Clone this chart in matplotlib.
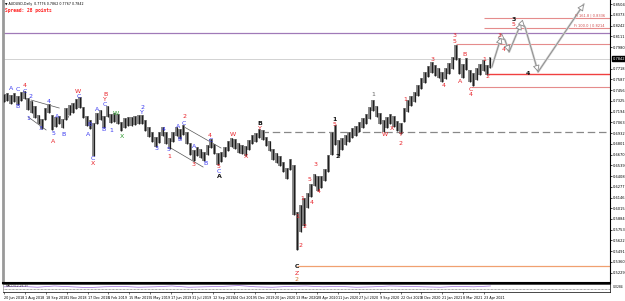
import matplotlib
matplotlib.use("Agg")
import matplotlib.pyplot as plt
import numpy as np

# ---------------- data (weekly-ish bars) ----------------
highs = [0.7409, 0.7421, 0.7397, 0.7421, 0.7385, 0.7434, 0.7446, 0.7360, 0.7324, 0.7263,
         0.7153, 0.7104, 0.7238, 0.7287, 0.7153, 0.7129, 0.7141, 0.7104, 0.7238, 0.7275,
         0.7299, 0.7348, 0.7373, 0.7251, 0.7141, 0.7092, 0.7055, 0.7177, 0.7214, 0.7141,
         0.7263, 0.7165, 0.7177, 0.7165, 0.7068, 0.7116, 0.7129, 0.7129, 0.7141, 0.7153,
         0.7153, 0.7092, 0.7007, 0.6946, 0.6885, 0.6946, 0.7007, 0.6946, 0.6872, 0.6946,
         0.7007, 0.6982, 0.7031, 0.6946, 0.6811, 0.6726, 0.6763, 0.6738, 0.6702, 0.6787,
         0.6860, 0.6799, 0.6689, 0.6702, 0.6763, 0.6836, 0.6872, 0.6860, 0.6811, 0.6787,
         0.6775, 0.6848, 0.6909, 0.6933, 0.6982, 0.6970, 0.6885, 0.6836, 0.6738, 0.6689,
         0.6653, 0.6580, 0.6506, 0.6616, 0.6543, 0.5970, 0.6055, 0.6140, 0.6201, 0.6311,
         0.6433, 0.6409, 0.6409, 0.6494, 0.6665, 0.6946, 0.7031, 0.6848, 0.6872, 0.6909,
         0.6946, 0.6994, 0.7019, 0.7068, 0.7116, 0.7165, 0.7251, 0.7336, 0.7263, 0.7177,
         0.7092, 0.7129, 0.7165, 0.7141, 0.7080, 0.7055, 0.7238, 0.7336, 0.7385, 0.7434,
         0.7519, 0.7604, 0.7678, 0.7751, 0.7800, 0.7763, 0.7726, 0.7678, 0.7726, 0.7787,
         0.7861, 0.8007, 0.7848, 0.7775, 0.7848, 0.7702, 0.7665, 0.7726, 0.7775, 0.7824,
         0.7763, 0.7861]
lows = [0.7312, 0.7324, 0.7287, 0.7312, 0.7275, 0.7324, 0.7348, 0.7214, 0.7177, 0.7116,
        0.7043, 0.6982, 0.7092, 0.7177, 0.6970, 0.7007, 0.7043, 0.6994, 0.7092, 0.7153,
        0.7177, 0.7226, 0.7238, 0.7116, 0.7019, 0.6982, 0.6653, 0.7043, 0.7092, 0.6994,
        0.7129, 0.7055, 0.7068, 0.7043, 0.6958, 0.6994, 0.7019, 0.7019, 0.7031, 0.7043,
        0.7043, 0.6958, 0.6885, 0.6824, 0.6763, 0.6811, 0.6897, 0.6799, 0.6738, 0.6824,
        0.6897, 0.6860, 0.6909, 0.6799, 0.6665, 0.6592, 0.6653, 0.6628, 0.6592, 0.6665,
        0.6750, 0.6677, 0.6543, 0.6580, 0.6641, 0.6714, 0.6763, 0.6738, 0.6689, 0.6677,
        0.6653, 0.6726, 0.6799, 0.6824, 0.6872, 0.6848, 0.6775, 0.6714, 0.6604, 0.6567,
        0.6531, 0.6458, 0.6372, 0.6482, 0.5933, 0.5506, 0.5726, 0.5799, 0.6018, 0.6153,
        0.6287, 0.6226, 0.6262, 0.6348, 0.6458, 0.6665, 0.6787, 0.6653, 0.6726, 0.6787,
        0.6824, 0.6872, 0.6897, 0.6946, 0.6994, 0.7043, 0.7104, 0.7202, 0.7129, 0.7043,
        0.6946, 0.6994, 0.7043, 0.7007, 0.6958, 0.6921, 0.7068, 0.7190, 0.7263, 0.7312,
        0.7385, 0.7470, 0.7543, 0.7617, 0.7665, 0.7629, 0.7604, 0.7556, 0.7592, 0.7653,
        0.7714, 0.7824, 0.7653, 0.7604, 0.7702, 0.7556, 0.7507, 0.7580, 0.7641, 0.7690,
        0.7641, 0.7726]

price_ticks = [0.8504, 0.8373, 0.8242, 0.8111, 0.7980, 0.7718, 0.7587, 0.7456,
               0.7325, 0.7194, 0.7063, 0.6932, 0.6801, 0.6670, 0.6539, 0.6408, 0.6277,
               0.6146, 0.6015, 0.5884, 0.5753, 0.5622, 0.5491, 0.5360, 0.5229]
current_price = 0.7842

date_labels = ["20 Jun 2018", "1 Aug 2018", "18 Sep 2018", "1 Nov 2018", "17 Dec 2018",
               "1 Feb 2019", "15 Mar 2019", "1 May 2019", "17 Jun 2019", "31 Jul 2019",
               "12 Sep 2019", "24 Oct 2019", "5 Dec 2019", "20 Jan 2020", "13 Mar 2020",
               "28 Apr 2020", "11 Jun 2020", "27 Jul 2020", "9 Sep 2020", "22 Oct 2020",
               "8 Dec 2020", "21 Jan 2021", "8 Mar 2021", "23 Apr 2021"]

BLUE, RED, BLACK, GREEN, ORANGE, GRAY = "#3b3bf0", "#e8232a", "#111111", "#2e9a2e", "#d07a30", "#666666"
# wave labels: (bar, price, text, colour)
wave_labels = [
    (2.0, 0.7482, "A", BLUE), (4.1, 0.7470, "C", BLUE), (3.8, 0.7251, "B", BLUE),
    (6.1, 0.7507, "4", RED), (6.1, 0.7434, "C", BLUE), (7.8, 0.7373, "2", BLUE),
    (7.0, 0.7116, "1", BLUE), (10.7, 0.6994, "3", BLUE), (12.8, 0.7312, "4", BLUE),
    (14.2, 0.6933, "5", BLUE), (14.2, 0.6824, "A", RED), (15.4, 0.7129, "A", BLUE),
    (17.1, 0.6921, "B", BLUE), (21.4, 0.7434, "W", RED), (21.7, 0.7373, "C", BLUE),
    (24.9, 0.7043, "B", BLUE), (24.3, 0.6909, "A", BLUE), (25.8, 0.6628, "C", BLUE),
    (25.8, 0.6567, "X", RED), (27.0, 0.7214, "A", BLUE), (28.7, 0.6982, "B", BLUE),
    (29.3, 0.7405, "B", RED), (29.3, 0.7343, "Y", RED), (29.3, 0.7280, "C", BLUE),
    (31.0, 0.6958, "1", BLUE), (32.5, 0.7177, "W", GREEN), (34.2, 0.6885, "X", GREEN),
    (40.0, 0.7245, "2", BLUE), (40.0, 0.7183, "Y", BLUE), (44.1, 0.6750, "3", BLUE),
    (46.4, 0.6982, "4", BLUE), (47.8, 0.6726, "5", BLUE), (47.8, 0.6641, "1", RED),
    (50.4, 0.7007, "A", BLUE), (51.0, 0.6860, "B", BLUE), (52.2, 0.7129, "2", RED),
    (52.2, 0.7055, "C", BLUE), (54.8, 0.6543, "3", RED), (55.1, 0.6763, "A", BLUE),
    (58.3, 0.6555, "B", BLUE), (59.7, 0.6897, "4", RED), (60.0, 0.6836, "C", BLUE),
    (62.3, 0.6525, "5", RED), (62.3, 0.6462, "C", BLUE), (62.3, 0.6398, "A", BLACK),
    (66.4, 0.6909, "W", RED), (70.1, 0.6641, "X", RED), (74.2, 0.7055, "B", BLACK),
    (74.2, 0.6994, "Y", RED),
    (90.4, 0.6543, "3", RED), (88.4, 0.6360, "5", RED), (91.3, 0.6214, "4", RED),
    (89.3, 0.6080, "4", RED), (86.4, 0.6128, "1", RED), (84.9, 0.5909, "1", RED),
    (87.0, 0.5787, "2", RED), (85.8, 0.5555, "2", RED),
    (84.9, 0.5299, "C", BLACK), (84.9, 0.5225, "Z", RED), (84.9, 0.5140, "2", ORANGE),
    (95.9, 0.7104, "1", BLACK), (95.9, 0.7031, "5", RED), (96.8, 0.6641, "2", BLACK),
    (107.0, 0.7397, "1", GRAY), (110.5, 0.6909, "W", RED), (112.5, 0.6994, "X", RED),
    (115.0, 0.6921, "Y", RED), (115.0, 0.6811, "2", RED),
    (116.2, 0.7336, "1", RED), (124.1, 0.7836, "3", RED), (127.5, 0.7507, "4", RED),
    (130.7, 0.8117, "3", RED), (130.7, 0.8044, "5", RED), (132.2, 0.7556, "A", RED),
    (133.6, 0.7885, "B", RED), (135.4, 0.7470, "C", RED), (135.4, 0.7397, "4", RED),
    (139.1, 0.7836, "1", RED), (140.0, 0.7617, "2", RED),
    (143.5, 0.8117, "3", RED), (144.9, 0.7946, "4", RED), (147.8, 0.8251, "5", RED),
    (147.8, 0.8324, "3", BLACK), (151.9, 0.7665, "4", BLACK),
]

# projected path (bar, price)
proj_x = [141.4, 144.1, 145.2, 146.4, 149.9, 151.0, 154.8, 168.1]
proj_y = [0.7739, 0.8105, 0.8068, 0.7922, 0.8275, 0.8227, 0.7678, 0.8507]

# horizontal levels: (price, start bar, colour, style, width)
levels = [
    (0.8336, 139.0, "#e58c8c", "-", 0.8),
    (0.8214, 139.0, "#e58c8c", "-", 0.8),
    (0.8153, -1.0, "#a07ab8", "-", 0.9),
    (0.8019, 131.0, "#e58c8c", "-", 0.8),
    (0.7836, -1.0, "#d2d2d2", "-", 0.7),
    (0.7653, 140.0, "#f04040", "-", 1.0),
    (0.7495, 135.5, "#e58c8c", "-", 0.8),
    (0.6946, 74.5, "#888888", (0, (6, 3)), 0.9),
    (0.5311, 85.0, "#f0a070", "-", 0.9),
]
fib_texts = [(0.8336, "Fi 161.8 | 0.8336"), (0.8214, "Fi 100.0 | 0.8214")]

# trend/channel lines (bar0, price0, bar1, price1)
trend_lines = [
    (7.8, 0.7336, 16.0, 0.7238), (7.0, 0.7129, 12.2, 0.6970),
    (18.5, 0.7116, 21.0, 0.7336), (19.0, 0.7214, 21.6, 0.7300),
    (52.2, 0.7007, 62.9, 0.6750), (47.8, 0.6763, 57.7, 0.6518),
]

# ---------------- drawing ----------------
W, H = 625, 301
fig = plt.figure(figsize=(W / 100, H / 100), dpi=100)
fig.patch.set_facecolor("white")


def px_axes(x0, y0, x1, y1):
    return fig.add_axes([x0 / W, 1 - y1 / H, (x1 - x0) / W, (y1 - y0) / H])


ax = px_axes(3, 0, 610, 283)
xmax = 607 / 3.45 - 0.3
ax.set_xlim(-0.3, xmax)
ax.set_ylim(0.5103, 0.8556)

bar_x = np.arange(len(highs))
ax.fill_between(bar_x, lows, highs, step="mid", color="#8c8c8c", lw=0, zorder=2.5)
ax.vlines(bar_x, lows, highs, color="#1e1e1e", lw=0.9, zorder=3)

for price, start, col, ls, lw in levels:
    ax.hlines(price, start, xmax, colors=col, linestyles=ls, lw=lw, zorder=2)
for price, txt in fib_texts:
    ax.text(xmax - 1.5, price + 0.0012, txt, color="#d05050", fontsize=2.6,
            ha="right", va="bottom", zorder=4)

for b0, p0, b1, p1 in trend_lines:
    ax.plot([b0, b1], [p0, p1], color="#555555", lw=0.5, zorder=2)

# projection: light thick lines with arrowheads
for i in range(len(proj_x) - 1):
    ax.annotate("", xy=(proj_x[i + 1], proj_y[i + 1]), xytext=(proj_x[i], proj_y[i]),
                arrowprops=dict(arrowstyle="-|>,head_length=0.4,head_width=0.2",
                                fc="white", ec="#8a8a8a", lw=0.6, shrinkA=0, shrinkB=0),
                zorder=4)
ax.plot(proj_x, proj_y, color="#d0d0d0", lw=1.6, zorder=3.5, solid_capstyle="round")

for b, p, t, c in wave_labels:
    ax.text(b, p, t, color=c, fontsize=4.5, ha="center", va="center",
            fontweight="bold" if c in (BLACK,) else "normal", zorder=5)

# axis styling
ax.set_xticks([])
ax.yaxis.tick_right()
ax.set_yticks(price_ticks)
ax.set_yticklabels([f"{v:.4f}" for v in price_ticks], fontsize=2.6)
ax.tick_params(axis="y", length=1.5, width=0.5, pad=0.8)
ax.spines["top"].set_visible(False)
ax.spines["left"].set_color("#999999")
ax.spines["left"].set_linewidth(2.0)
ax.spines["right"].set_color("black")
ax.spines["right"].set_linewidth(0.8)
ax.spines["bottom"].set_color("black")
ax.spines["bottom"].set_linewidth(1.5)

# current price tag
ax.text(xmax + 0.7, current_price, f"{current_price:.4f}", fontsize=2.6, color="white",
        ha="left", va="center", clip_on=False, zorder=6,
        bbox=dict(boxstyle="square,pad=0.2", fc="black", ec="black"))

# header
fig.text(5 / W, 1 - 4 / H, "\u25bc AUDUSD,Daily  0.7776 0.7862 0.7767 0.7842", fontsize=2.3,
         color="black", ha="left", va="center")
fig.text(5 / W, 1 - 10.5 / H, "Spread: 28 points", fontsize=3.3, color="#ff2020",
         family="DejaVu Sans Mono", fontweight="bold", ha="left", va="center")

# indicator sub-window
ind = px_axes(3, 284, 610, 292)
ind.set_xlim(-0.3, xmax)
ind.set_ylim(-1, 1)
ind_vals = [0.3, 0.4, 0.2, 0.5, 0.3, 0.1, 0.3, 0.4, 0.2, 0.3, 0.5, 0.2, 0.3, 0.4, 0.6, 0.3,
            0.2, 0.4, 0.5, 0.3, 0.4, 0.2, 0.3, 0.5, 0.4, 0.3, 0.2, 0.4, 0.3, 0.5]
ind_x = np.linspace(0, len(highs) - 1, len(ind_vals))
ind.plot(ind_x, ind_vals, color="#9b6bd8", lw=0.5)
ind.axhline(-0.3, color="#555555", lw=0.5, ls=(0, (1, 1)))
ind.set_yticks([])
date_pos = np.arange(len(date_labels)) * 6.05
ind.set_xticks(date_pos)
ind.set_xticklabels(date_labels, fontsize=2.4, ha="left")
ind.tick_params(axis="x", length=1.5, width=0.4, pad=1.5)
for s in ("top", "bottom", "left", "right"):
    ind.spines[s].set_linewidth(0.5)
ind.spines["left"].set_color("#999999")
ind.spines["top"].set_color("black")
ind.text(0.5, 0.6, "MACD(12,26,9)", fontsize=2.2, color="#333333", ha="left", va="center")
ind.text(xmax + 0.7, 0.3, "0.0284", fontsize=2.2, color="black", ha="left", va="center",
         clip_on=False)

fig.savefig("out.png", dpi=100)
